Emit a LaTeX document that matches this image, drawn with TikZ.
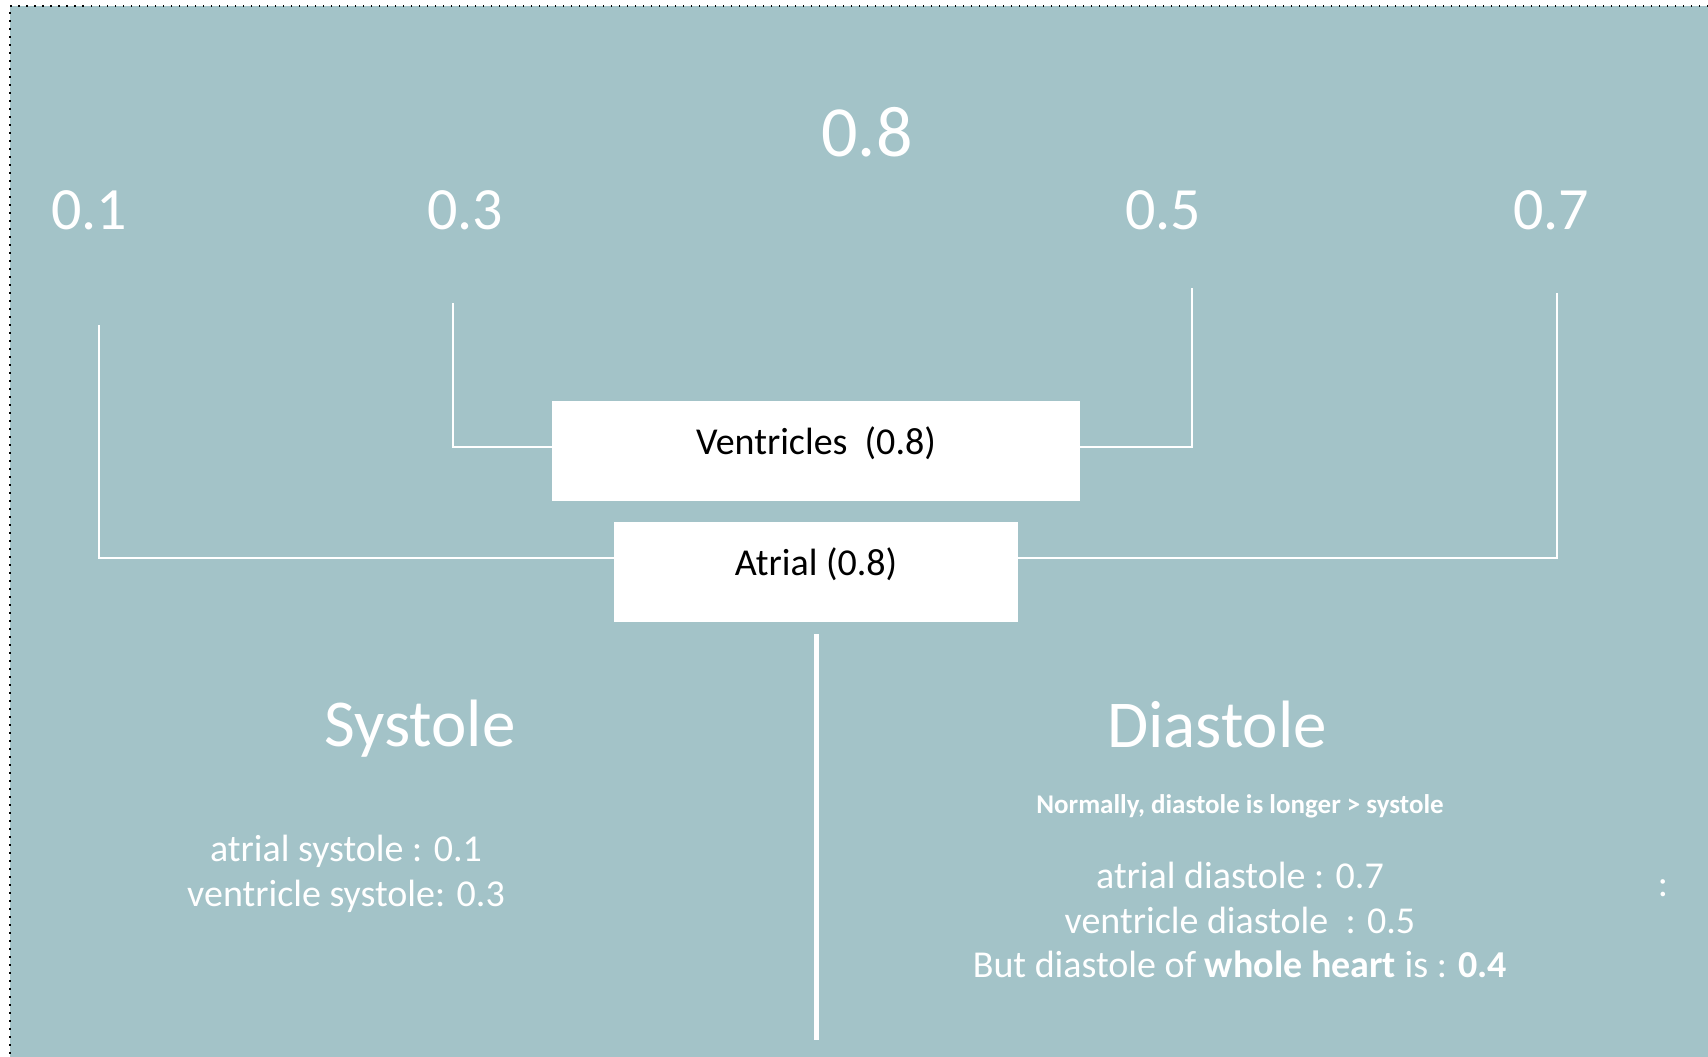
\documentclass[tikz,border=0pt]{standalone}
\usepackage{fontspec}
\setmainfont{Carlito}
\usetikzlibrary{positioning}
\definecolor{bgteal}{RGB}{163,195,200}

\begin{document}
\begin{tikzpicture}[
    x=1pt, y=-1pt,
    numlabel/.style={
        text=white,
        inner sep=0pt,
        font=\fontsize{60}{72}\selectfont
    },
    phase/.style={
        text=white,
        inner sep=0pt,
        font=\fontsize{67}{80}\selectfont
    },
    detail/.style={
        text=white,
        align=center,
        inner sep=0pt,
        font=\fontsize{38}{44.5}\selectfont
    },
    block/.style={
        rectangle,
        fill=white,
        text=black,
        minimum height=100pt,
        text height=28pt,
        text depth=22pt,
        font=\fontsize{38}{46}\selectfont
    },
    bracket/.style={
        draw=white,
        line width=2pt
    },
    divider/.style={
        draw=white,
        line width=5pt
    }
]
    \useasboundingbox (0,0) rectangle (1708,1057);
    \fill [bgteal] (10,6) rectangle (1708,1057);
    \draw [black, line width=1.5pt, dash pattern=on 1.5pt off 6.5pt] (1708,6) -- (10,6) -- (10,1057);

    % durations
    \node [numlabel, font=\fontsize{72}{86}\selectfont] (n08) at (867,132) {0.8};
    \node [numlabel] (n01) at (89,210) {0.1};
    \node [numlabel] (n03) at (465,210) {0.3};
    \node [numlabel] (n05) at (1163,210) {0.5};
    \node [numlabel] (n07) at (1551,210) {0.7};

    % chambers
    \node [block, minimum width=528pt] (ventricles) at (816,451) {Ventricles\ \ (0.8)};
    \node [block, minimum width=404pt] (atrial) at (816,572) {Atrial (0.8)};

    \coordinate (t01) at (99,325);
    \coordinate (t03) at (453,303);
    \coordinate (t05) at (1192,288);
    \coordinate (t07) at (1557,293);

    \draw [bracket] (t01) |- ([yshift=14pt]atrial.west);
    \draw [bracket] (t07) |- ([yshift=14pt]atrial.east);
    \draw [bracket] (t03) |- ([yshift=4pt]ventricles.west);
    \draw [bracket] (t05) |- ([yshift=4pt]ventricles.east);

    \draw [divider] ([yshift=-12pt]atrial.south) -- ++(0,406);

    % phases
    \node [phase] (systole) at (420,729) {Systole};
    \node [phase] (diastole) at (1217,724) {Diastole};
    \node [text=white, inner sep=0pt, font=\bfseries\fontsize{27}{32}\selectfont] (note) at (1240,806) {Normally, diastole is longer > systole};

    \node [detail] (sysinfo) at (346,874) {atrial systole : 0.1\\ventricle systole: 0.3};
    \node [detail] (diainfo) at (1240,920) {atrial diastole : 0.7\\ventricle diastole\ \ : 0.5\\But diastole of \textbf{whole heart} is : \textbf{0.4}};
    \node [detail] (colon) at (1663,888) {:};
\end{tikzpicture}
\end{document}
